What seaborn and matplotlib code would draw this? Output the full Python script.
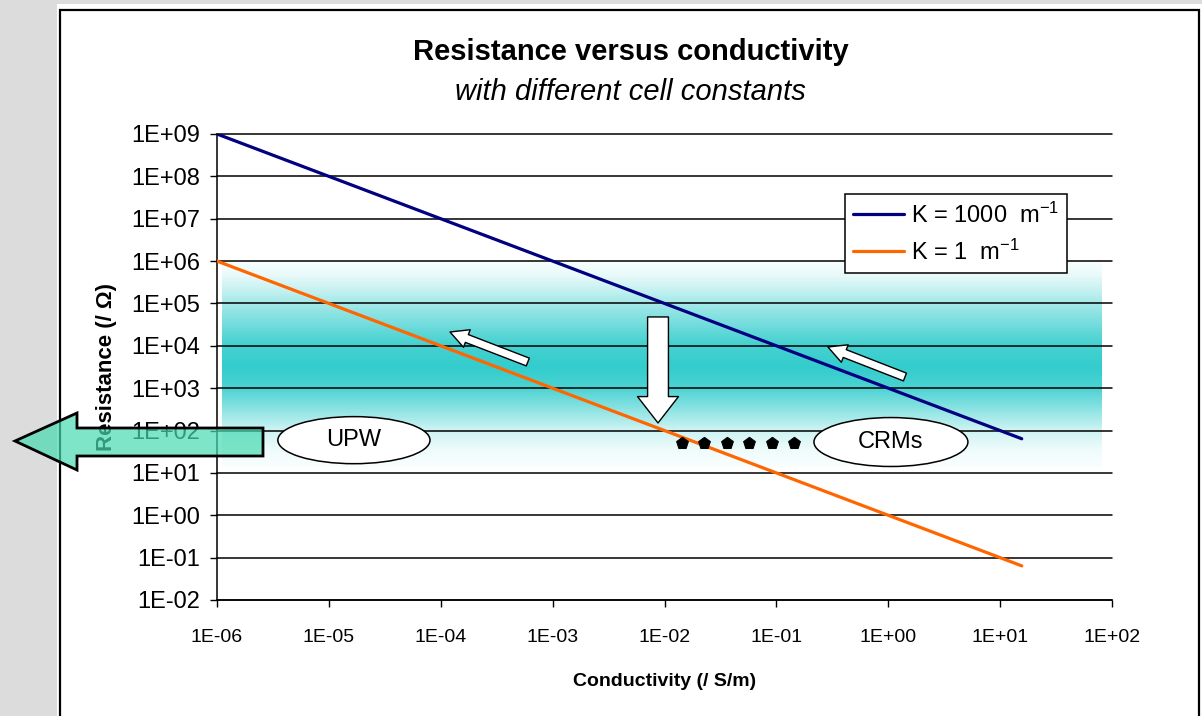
import numpy as np
import pandas as pd
import matplotlib
matplotlib.use("Agg")
import matplotlib.pyplot as plt
import seaborn as sns
from matplotlib.patches import Polygon, Rectangle, Ellipse
from matplotlib.lines import Line2D
from matplotlib.ticker import FixedLocator, FuncFormatter, NullLocator

# ---------------- data ----------------
conductivity = [1e-6, 1e-5, 1e-4, 1e-3, 2e-3, 4.4e-3, 1e-2, 1e-1, 5e-1, 1.0, 4.0, 15.6]
res_k1000 = [1e9, 1e8, 1e7, 1e6, 5e5, 2.27e5, 1e5, 1e4, 2e3, 1e3, 250, 64]
res_k1 = [1e6, 1e5, 1e4, 1e3, 500, 227, 100, 10, 2, 1, 0.25, 0.064]
series_labels = ["K = 1000  m$^{-1}$", "K = 1  m$^{-1}$"]
series_colors = ["#000080", "#FF6600"]

crm_conductivity = [0.0143, 0.0225, 0.0362, 0.0569, 0.0914, 0.144]
crm_resistance = [51, 51, 51, 51, 51, 51]

x_ticks = [1e-6, 1e-5, 1e-4, 1e-3, 1e-2, 1e-1, 1e0, 1e1, 1e2]
y_ticks = [1e-2, 1e-1, 1e0, 1e1, 1e2, 1e3, 1e4, 1e5, 1e6, 1e7, 1e8, 1e9]

title = "Resistance versus conductivity"
subtitle = "with different cell constants"
x_label = "Conductivity (/ S/m)"
y_label = "Resistance (/ Ω)"

# ---------------- style ----------------
sns.set_theme(style="white")
plt.rcParams["font.family"] = ["Liberation Sans", "DejaVu Sans"]
plt.rcParams["mathtext.fontset"] = "custom"
plt.rcParams["mathtext.rm"] = "Liberation Sans"
plt.rcParams["mathtext.it"] = "Liberation Sans:italic"
plt.rcParams["mathtext.default"] = "regular"
for k in ["text.color", "axes.labelcolor", "xtick.color", "ytick.color"]:
    plt.rcParams[k] = "black"
narrow = ["Liberation Sans Narrow", "Liberation Sans", "DejaVu Sans"]

W, H = 1202, 716
fig = plt.figure(figsize=(W / 100, H / 100), dpi=100)
fig.patch.set_facecolor("#DCDCDC")


def fx(x):
    return x / W


def fy(y):
    return 1 - y / H


# white panel with border
fig.patches.append(Rectangle((fx(57), 0), 1 - fx(57), fy(4), transform=fig.transFigure,
                             facecolor="white", edgecolor="none", zorder=-5))
fig.patches.append(Rectangle((fx(60), fy(760)), fx(1199) - fx(60), fy(10) - fy(760),
                             transform=fig.transFigure, facecolor="none",
                             edgecolor="black", lw=1.6, zorder=1))

ax = fig.add_axes([fx(217), fy(600), fx(1112) - fx(217), fy(134) - fy(600)])
ax.set_facecolor("none")
ax.set_xscale("log")
ax.set_yscale("log")

# gradient band (drawn as thin horizontal strips in axes coordinates)
band_x0, band_x1, band_y0, band_y1 = 0.0056, 0.989, 0.285, 0.73
n = 220
prof_t = [0.0, 0.08, 0.2, 0.4, 0.52, 0.62, 0.82, 0.92, 1.0]
prof_v = [0.02, 0.12, 0.42, 0.9, 1.0, 0.88, 0.25, 0.08, 0.03]
teal = np.array([0.2, 0.8, 0.8])
edges = np.linspace(0, 1, n + 1)
for i in range(n):
    tm = 0.5 * (edges[i] + edges[i + 1])  # 0 = top, 1 = bottom
    v = np.interp(tm, prof_t, prof_v)
    col = 1 - v * (1 - teal)
    ytop = band_y1 - edges[i] * (band_y1 - band_y0)
    ybot = band_y1 - edges[i + 1] * (band_y1 - band_y0)
    ax.add_patch(Rectangle((band_x0, ybot), band_x1 - band_x0, ytop - ybot + 0.0005,
                           transform=ax.transAxes, facecolor=col, edgecolor="none",
                           lw=0, zorder=0.2))

# lines
df = pd.DataFrame({
    "conductivity": conductivity * 2,
    "resistance": res_k1000 + res_k1,
    "series": [series_labels[0]] * len(conductivity) + [series_labels[1]] * len(conductivity),
})
sns.lineplot(data=df, x="conductivity", y="resistance", hue="series",
             palette=series_colors, lw=2.3, sort=False, estimator=None,
             ax=ax, legend=False, zorder=3)

# CRM dots
sns.scatterplot(x=crm_conductivity, y=crm_resistance, marker="p", s=80,
                color="black", edgecolor="black", ax=ax, zorder=6, legend=False)

ax.set_xlim(1e-6, 1e2)
ax.set_ylim(1e-2, 1e9)

ax.xaxis.set_major_locator(FixedLocator(x_ticks))
ax.yaxis.set_major_locator(FixedLocator(y_ticks))
ax.xaxis.set_minor_locator(NullLocator())
ax.yaxis.set_minor_locator(NullLocator())
fmt = FuncFormatter(lambda v, p: f"{v:.0E}")
ax.xaxis.set_major_formatter(fmt)
ax.yaxis.set_major_formatter(fmt)

ax.set_axisbelow(True)
ax.yaxis.grid(True, color="black", lw=1.1)
ax.xaxis.grid(False)
for gl in ax.yaxis.get_gridlines():
    gl.set_clip_on(False)
for s in ["top", "right"]:
    ax.spines[s].set_visible(False)
for s in ["left", "bottom"]:
    ax.spines[s].set_color("black")
    ax.spines[s].set_linewidth(1.1)

ax.tick_params(axis="y", which="major", direction="out", length=5, width=1,
               color="black", left=True, labelsize=17, pad=7)
ax.tick_params(axis="x", which="major", direction="out", length=5, width=1,
               color="black", bottom=True, labelsize=14, pad=16)
for lab in ax.get_xticklabels():
    lab.set_family(narrow)

ax.set_xlabel(x_label, fontsize=14, fontweight="bold", family=narrow, labelpad=19)
ax.set_ylabel(y_label, fontsize=16, fontweight="bold", labelpad=10)

# legend
handles = [Line2D([0], [0], color=c, lw=2.3) for c in series_colors]
leg = ax.legend(handles, series_labels, loc="upper right",
                bbox_to_anchor=(0.950, 0.871), fontsize=17, frameon=True,
                fancybox=False, edgecolor="black", framealpha=1,
                handlelength=2.15, handletextpad=0.3, borderpad=0.35,
                labelspacing=0.5, borderaxespad=0)
leg.get_frame().set_linewidth(1.1)
leg.set_zorder(10)

# ellipses with labels
for (cx, cy, w, h, txt) in [(0.153, 0.343, 0.170, 0.101, "UPW"),
                            (0.753, 0.339, 0.172, 0.105, "CRMs")]:
    ax.add_patch(Ellipse((cx, cy), w, h, transform=ax.transAxes, facecolor="white",
                         edgecolor="black", lw=1.1, zorder=5))
    ax.text(cx, cy, txt, transform=ax.transAxes, ha="center", va="center",
            fontsize=17, zorder=6)


# white arrows
def white_arrow(tail, tip, tw, hw, hl):
    ax.annotate("", xy=tip, xytext=tail, xycoords="data", textcoords="data",
                arrowprops=dict(arrowstyle=f"simple,head_length={hl},head_width={hw},tail_width={tw}",
                                fc="white", ec="black", lw=1.0, shrinkA=0, shrinkB=0,
                                mutation_scale=1),
                zorder=7)


white_arrow((8.75e-3, 4.8e4), (8.75e-3, 151), 15, 29.5, 19)
white_arrow((6.0e-4, 4150), (1.21e-4, 2.12e4), 6, 13.5, 13)
white_arrow((1.41, 1836), (0.289, 9380), 6, 13.5, 13)

# big left arrow (outside axes)
pts = [(15, 441), (77, 413), (77, 428), (263, 428), (263, 456), (77, 456), (77, 470)]
fig.patches.append(Polygon([(fx(x), fy(y)) for x, y in pts], closed=True,
                           transform=fig.transFigure, facecolor="#48DAB2", alpha=0.7,
                           edgecolor="none", zorder=20))
fig.patches.append(Polygon([(fx(x), fy(y)) for x, y in pts], closed=True,
                           transform=fig.transFigure, facecolor="none",
                           edgecolor="black", lw=2.0, zorder=21))

# titles
fig.text(fx(631), fy(52), title, ha="center", va="center", fontsize=21, fontweight="bold")
fig.text(fx(630), fy(92), subtitle, ha="center", va="center", fontsize=21, style="italic")

fig.savefig("out.png", dpi=100, facecolor=fig.get_facecolor())
